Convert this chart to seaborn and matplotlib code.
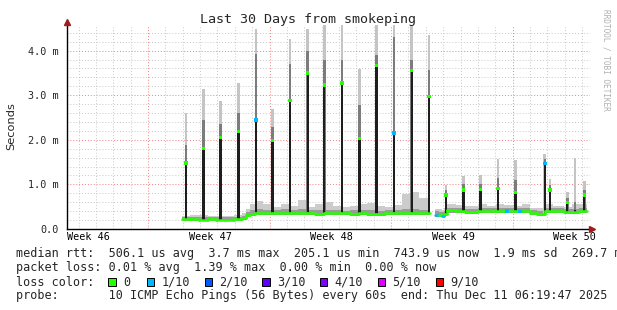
import numpy as np
import pandas as pd
import matplotlib
matplotlib.use("Agg")
import matplotlib.pyplot as plt
import seaborn as sns
from matplotlib.transforms import blended_transform_factory
from matplotlib.patches import Rectangle

# ---------------- data (days since left edge, values in ms) ----------------
title = "Last 30 Days from smokeping"
y_label = "Seconds"
y_tick_values = [0, 1, 2, 3, 4]
y_tick_labels = ["0.0", "1.0 m", "2.0 m", "3.0 m", "4.0 m"]
week_labels = ["Week 46", "Week 47", "Week 48", "Week 49", "Week 50"]
week_label_days = [1.22, 8.24, 15.26, 22.24, 29.25]
week_grid_days = [4.67, 11.67, 18.69, 25.68]
day_grid_days = [0.67 + k for k in range(30)]

# baseline runs (piecewise constant, consolidated)
base_edges = [6.61, 7.1, 7.6, 8.1, 8.6, 9.1, 9.6, 10.1, 10.34, 10.54, 10.83, 11.3, 11.8,
              12.3, 12.8, 13.3, 13.8, 14.3, 14.8, 15.3, 15.8, 16.3, 16.8, 17.3, 17.8, 18.3,
              18.8, 19.3, 19.8, 20.3, 20.93, 21.22, 21.45, 21.6, 21.72, 21.9, 22.4, 22.93,
              23.7, 24.2, 24.7, 25.2, 25.7, 26.2, 26.67, 27.1, 27.53, 28.0, 28.63, 29.1,
              29.5, 29.93]
base_median = [.22, .22, .21, .22, .21, .21, .22, .24, .31, .33, .36, .35, .35, .36, .35,
               .35, .35, .34, .35, .35, .35, .34, .35, .34, .33, .35, .35, .35, .35, .35,
               np.nan, .32, .31, .30, .33, .42, .40, .37, .40, .40, .40, .40, .40, .40,
               .35, .33, .40, .40, .37, .38, .40]
base_low = [.19, .19, .19, .19, .18, .18, .19, .21, .27, .29, .31, .31, .31, .31, .31,
            .31, .31, .30, .31, .31, .31, .30, .31, .30, .29, .31, .31, .31, .31, .31,
            np.nan, .28, .27, .26, .29, .36, .35, .33, .35, .35, .35, .35, .35, .35,
            .31, .29, .35, .35, .33, .34, .35]
base_dark = [.27, .27, .26, .27, .26, .26, .27, .30, .37, .42, .44, .43, .42, .44, .42,
             .44, .42, .42, .43, .42, .41, .42, .43, .43, .41, .42, .42, .45, .45, .43,
             np.nan, .40, .39, .38, .41, .48, .47, .45, .46, .47, .46, .46, .46, .47,
             .43, .41, .46, .46, .44, .45, .47]
base_light = [.30, .32, .31, .30, .29, .30, .31, .36, .45, .55, .62, .55, .50, .56, .52,
              .66, .50, .56, .60, .52, .50, .52, .55, .58, .52, .50, .54, .78, .82, .70,
              np.nan, .45, .44, .43, .48, .56, .53, .52, .55, .52, .55, .53, .52, .56,
              .48, .47, .55, .52, .50, .55, .55]
base_loss = [0] * 31 + [1, 0, 1] + [0] * 17

# daily spikes
spike_days = [6.86, 7.87, 8.85, 9.87, 10.89, 11.85, 12.85, 13.87, 14.82, 15.84, 16.84,
              17.84, 18.84, 19.86, 20.85, 21.83, 22.83, 23.83, 24.83, 25.85, 27.53,
              27.82, 28.82, 29.26, 29.80]
spike_median = [1.48, 1.80, 2.05, 2.19, 2.44, 1.99, 2.88, 3.50, 3.23, 3.27, 2.03, 3.66,
                2.15, 3.55, 2.97, 0.76, 0.87, 0.89, 0.91, 0.82, 1.47, 0.87, 0.60, 0.42,
                0.76]
spike_mid = [1.88, 2.44, 2.36, 2.60, 3.93, 2.29, 3.71, 4.00, 3.78, 3.78, 2.78, 3.90,
             4.30, 3.78, 3.56, 0.88, 1.00, 1.02, 1.15, 1.10, 1.58, 0.98, 0.70, 0.60, 0.88]
spike_max = [2.60, 3.13, 2.88, 3.27, 4.48, 2.70, 4.27, 4.49, 4.60, 4.60, 3.59, 4.60,
             4.60, 4.60, 4.34, 0.98, 1.18, 1.21, 1.56, 1.54, 1.68, 1.12, 0.83, 1.59, 1.07]
spike_loss = [0, 0, 0, 0, 1, 0, 0, 0, 0, 0, 0, 0, 1, 0, 0, 0, 0, 0, 0, 0, 1, 0, 0, 0, 0]

# isolated loss marks on baseline
loss_mark_days = [25.35, 26.1]
loss_mark_vals = [0.40, 0.39]
loss_mark_loss = [1, 1]

loss_labels = ["0", "1/10", "2/10", "3/10", "4/10", "5/10", "9/10"]
loss_colors = ["#26ff00", "#00b8ff", "#0059ff", "#5e00ff", "#7e00ff", "#dd00ff", "#ff0000"]

legend_lines = [
    "median rtt:  506.1 us avg  3.7 ms max  205.1 us min  743.9 us now  1.9 ms sd  269.7 m",
    "packet loss: 0.01 % avg  1.39 % max  0.00 % min  0.00 % now",
    "loss color:",
    "probe:       10 ICMP Echo Pings (56 Bytes) every 60s  end: Thu Dec 11 06:19:47 2025",
]
watermark = "RRDTOOL / TOBI OETIKER"

# ---------------- figure ----------------
sns.set_style("white")
plt.rcParams["font.family"] = ["DejaVu Sans Mono", "DejaVu Sans"]

W, H = 617, 310
fig = plt.figure(figsize=(W / 100, H / 100), dpi=100, facecolor="white")
L, R, B, T = 67, 590, 229, 25
ax = fig.add_axes([L / W, 1 - B / H, (R - L) / W, (B - T) / H])
ax.set_facecolor("white")
ax.set_xlim(0, 30.13)
ax.set_ylim(0, 4.574)

# grid
ax.set_xticks(week_grid_days)
ax.set_xticks([d for d in day_grid_days if min(abs(d - w) for w in week_grid_days) > 0.1], minor=True)
ax.set_yticks(y_tick_values)
ax.set_yticks([v / 5 for v in range(1, 23) if v % 5], minor=True)
ax.set_xticklabels([])
ax.set_yticklabels(y_tick_labels, fontsize=7.3)
ax.grid(which="minor", color="#c8c8c8", linestyle=(0, (1, 2)), linewidth=0.7)
ax.grid(which="major", color="#f08080", linestyle=(0, (1, 2)), linewidth=0.7)
ax.set_axisbelow(True)
ax.tick_params(axis="both", which="both", length=2, width=0.6, color="#888888",
               direction="inout")
ax.tick_params(axis="y", which="major", pad=5)

for s in ["top", "right"]:
    ax.spines[s].set_visible(False)
for s in ["left", "bottom"]:
    ax.spines[s].set_color("black")
    ax.spines[s].set_linewidth(1.0)
    ax.spines[s].set_zorder(10)

# baseline smoke
edges = np.array(base_edges)
x_step = np.repeat(edges, 2)[1:-1]
def stepify(v):
    return np.repeat(np.array(v, dtype=float), 2)
lo, dk, lt = stepify(base_low), stepify(base_dark), stepify(base_light)
ax.fill_between(x_step, dk, lt, color="#cccccc", linewidth=0, zorder=2)
ax.fill_between(x_step, lo, dk, color="#9a9a9a", linewidth=0, zorder=3)

# spikes
def base_at(d):
    i = np.searchsorted(edges, d) - 1
    i = min(max(i, 0), len(base_median) - 1)
    return base_median[i]
bottoms = [base_at(d) for d in spike_days]
sp = pd.DataFrame({"day": spike_days, "median": spike_median, "mid": spike_mid,
                   "max": spike_max, "loss": spike_loss, "bottom": bottoms})
ax.bar(sp["day"], sp["max"] - sp["bottom"], bottom=sp["bottom"], width=0.16,
       color="#c4c4c4", linewidth=0, zorder=4)
ax.bar(sp["day"], sp["mid"] - sp["bottom"], bottom=sp["bottom"], width=0.15,
       color="#7c7c7c", linewidth=0, zorder=5)
ax.bar(sp["day"], sp["median"] - sp["bottom"], bottom=sp["bottom"], width=0.14,
       color="#1e1e1e", linewidth=0, zorder=6)

# median line, coloured by loss
for i in range(len(base_median)):
    if np.isnan(base_median[i]):
        continue
    df = pd.DataFrame({"t": [edges[i], edges[i + 1]], "v": [base_median[i]] * 2})
    sns.lineplot(data=df, x="t", y="v", ax=ax, color=loss_colors[base_loss[i]],
                 linewidth=1.8, zorder=7, estimator=None, legend=False)
    if i + 1 < len(base_median) and not np.isnan(base_median[i + 1]):
        dfv = pd.DataFrame({"t": [edges[i + 1]] * 2, "v": [base_median[i], base_median[i + 1]]})
        sns.lineplot(data=dfv, x="t", y="v", ax=ax, color=loss_colors[base_loss[i]],
                     linewidth=1.8, zorder=7, estimator=None, sort=False, legend=False)

# spike tips
sp["color"] = [loss_colors[k] for k in sp["loss"]]
tips = sp[sp["median"] > 0.5]
sns.scatterplot(data=tips, x="day", y="median", hue="color", palette={c: c for c in loss_colors},
                marker="s", s=6, linewidth=0, ax=ax, zorder=8, legend=False)
lm = pd.DataFrame({"day": loss_mark_days, "v": loss_mark_vals,
                   "c": [loss_colors[k] for k in loss_mark_loss]})
sns.scatterplot(data=lm, x="day", y="v", hue="c", palette={c: c for c in loss_colors},
                marker="s", s=6, linewidth=0, ax=ax, zorder=8, legend=False)
ax.set_xlabel("")
ax.set_ylabel("")

# arrows
ax.plot([0], [(B - 22) / (B - T)], marker="^", color="#a01c1c", ms=4.5, transform=ax.transAxes,
        clip_on=False, zorder=12)
ax.plot([(592 - L) / (R - L)], [0], marker=">", color="#a01c1c", ms=4.5, transform=ax.transAxes,
        clip_on=False, zorder=12)

# week labels
trans = blended_transform_factory(ax.transData, ax.transAxes)
for d, lab in zip(week_label_days, week_labels):
    ax.text(d, -(237.5 - B) / (B - T), lab, transform=trans, ha="center", va="center",
            fontsize=7.3, color="black")

# title, y label, watermark
fig.text(308 / W, 1 - 19 / H, title, ha="center", va="center", fontsize=9.6)
fig.text(11 / W, 1 - 126 / H, y_label, rotation=90, ha="center", va="center", fontsize=8.2,
         family="DejaVu Sans")
fig.text(606 / W, 1 - 60 / H, watermark, rotation=-90, ha="center", va="center", fontsize=5.6,
         color="#b0b0b0")

# legend lines
row_y = [254, 268, 282, 296]
for y, line in zip(row_y, legend_lines):
    fig.text(16 / W, 1 - y / H, line, ha="left", va="center", fontsize=8.5)

box_x = [108.3, 146.5, 204.5, 262.0, 319.5, 377.5, 435.5]
for bx, lab, col in zip(box_x, loss_labels, loss_colors):
    fig.patches.append(Rectangle((bx / W, 1 - (282 + 4) / H), 7.5 / W, 8 / H, transform=fig.transFigure,
                                 facecolor=col, edgecolor="black", linewidth=0.7))
    fig.text((bx + 15) / W, 1 - 282 / H, lab, ha="left", va="center", fontsize=8.5)

fig.savefig("out.png", dpi=100, facecolor="white")
